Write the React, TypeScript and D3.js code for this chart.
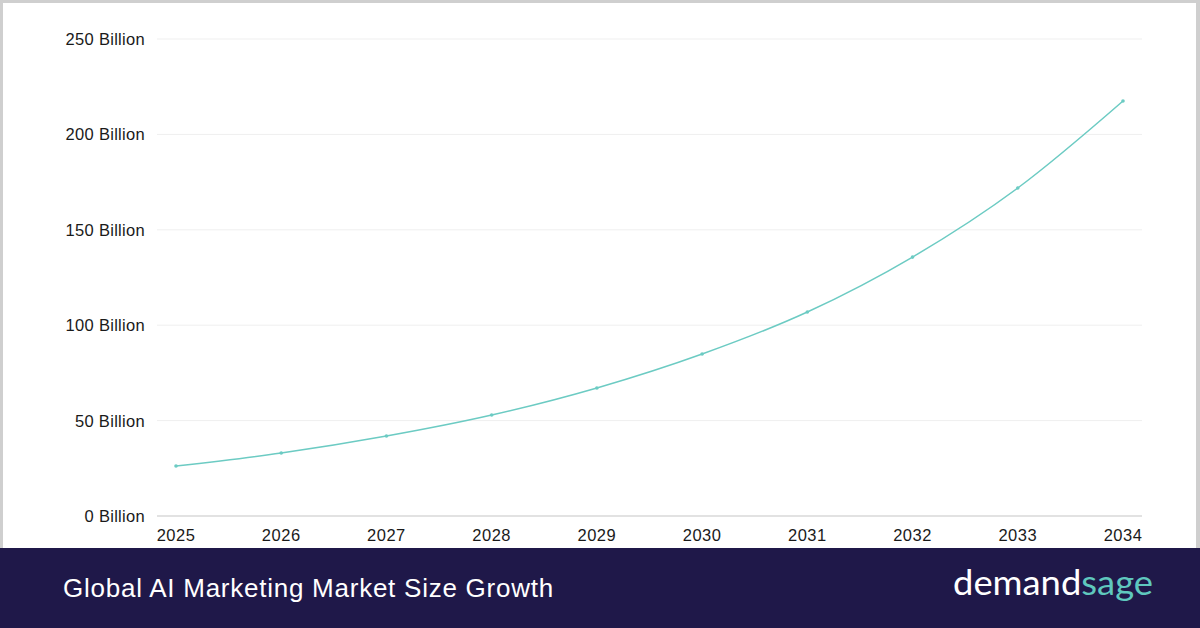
import React, { useRef, useEffect } from 'react';
import * as d3 from 'd3';

// market size, billion USD
const years = ['2025', '2026', '2027', '2028', '2029', '2030', '2031', '2032', '2033', '2034'];
const marketSize = [26.2, 33.0, 41.9, 52.9, 67.1, 84.9, 106.9, 135.7, 171.9, 217.5];
const yTicks = [0, 50, 100, 150, 200, 250];
const title = 'Global AI Marketing Market Size Growth';

const W = 1200;
const H = 628;

const App = () => {
    const svgRef = useRef<SVGSVGElement>(null);

    useEffect(() => {
        const svg = d3.select(svgRef.current);
        svg.selectAll('*').remove();

        const font = '"Liberation Sans", Arial, sans-serif';

        // page background + grey frame
        svg.append('rect').attr('width', W).attr('height', H).attr('fill', '#cfcfcf');
        svg.append('rect').attr('x', 3).attr('y', 3).attr('width', W - 7).attr('height', H - 3).attr('fill', '#fff');

        const x = d3.scalePoint<string>().domain(years).range([176, 1123]);
        const y = d3.scaleLinear().domain([0, 250]).range([516, 39]);

        // grid
        svg.append('g')
            .selectAll('line')
            .data(yTicks)
            .join('line')
            .attr('x1', 157)
            .attr('x2', 1142)
            .attr('y1', d => y(d))
            .attr('y2', d => y(d))
            .attr('stroke', d => (d === 0 ? '#e2e2e2' : '#efefef'))
            .attr('stroke-width', d => (d === 0 ? 2 : 1));

        // y labels
        svg.append('g')
            .selectAll('text')
            .data(yTicks)
            .join('text')
            .attr('x', 145)
            .attr('y', d => y(d) + 6)
            .attr('text-anchor', 'end')
            .attr('font-family', font)
            .attr('font-size', 16.5)
            .attr('letter-spacing', 0.3)
            .attr('fill', '#1a1a1a')
            .text(d => `${d} Billion`);

        // x labels
        svg.append('g')
            .selectAll('text')
            .data(years)
            .join('text')
            .attr('x', d => x(d) as number)
            .attr('y', 541)
            .attr('text-anchor', 'middle')
            .attr('font-family', font)
            .attr('font-size', 16.5)
            .attr('letter-spacing', 0.5)
            .attr('fill', '#1a1a1a')
            .text(d => d);

        // line
        const line = d3.line<number>()
            .x((_, i) => x(years[i]) as number)
            .y(d => y(d))
            .curve(d3.curveMonotoneX);

        svg.append('path')
            .datum(marketSize)
            .attr('d', line)
            .attr('fill', 'none')
            .attr('stroke', '#6ccbc3')
            .attr('stroke-width', 1.5);

        svg.append('g')
            .selectAll('circle')
            .data(marketSize)
            .join('circle')
            .attr('cx', (_, i) => x(years[i]) as number)
            .attr('cy', d => y(d))
            .attr('r', 1.8)
            .attr('fill', '#6ccbc3');

        // footer
        svg.append('rect').attr('x', 0).attr('y', 548).attr('width', W).attr('height', H - 548).attr('fill', '#1f1849');

        svg.append('text')
            .attr('x', 63)
            .attr('y', 597)
            .attr('font-family', font)
            .attr('font-size', 26)
            .attr('letter-spacing', 0.75)
            .attr('fill', '#ffffff')
            .text(title);

        const logo = svg.append('text')
            .attr('x', 953)
            .attr('y', 595)
            .attr('font-family', 'Lato, "Open Sans", sans-serif')
            .attr('font-size', 35)
            .attr('textLength', 200)
            .attr('lengthAdjust', 'spacingAndGlyphs');
        logo.append('tspan').attr('fill', '#ffffff').text('demand');
        logo.append('tspan').attr('fill', '#5fc8be').text('sage');
    }, []);

    return (
        <svg
            ref={svgRef}
            width={W}
            height={H}
            style={{ position: 'absolute', left: 0, top: 0, display: 'block' }}
        />
    );
};

export default App;
